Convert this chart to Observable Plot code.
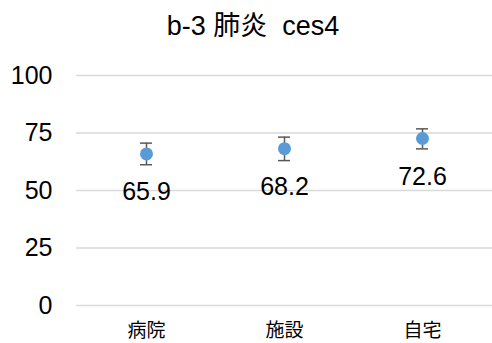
<!DOCTYPE html>
<html>
<head>
<meta charset="utf-8">
<script src="https://cdn.jsdelivr.net/npm/d3@7"></script>
<script src="https://cdn.jsdelivr.net/npm/@observablehq/plot@0.6"></script>
<style>
  body { margin: 0; background: #fff; font-family: "Liberation Sans", "Noto Sans CJK JP", sans-serif; }
  #title { height: 50px; line-height: 52px; text-align: center; font-size: 27px; color: #000; width: 492px; padding-left: 14px; box-sizing: border-box; white-space: pre; }
</style>
</head>
<body>
<div id="title">b-3 肺炎  ces4</div>
<div id="chart"></div>
<script>
const categories = ["病院", "施設", "自宅"];
const means = [65.9, 68.2, 72.6];
const lows = [61.2, 63.0, 68.1];
const highs = [70.6, 73.2, 76.8];
const yTicks = [0, 25, 50, 75, 100];

const data = categories.map((c, i) => ({cat: c, v: means[i], lo: lows[i], hi: highs[i]}));

const chart = Plot.plot({
  width: 492,
  height: 293,
  marginTop: 25,
  marginBottom: 38,
  marginLeft: 76,
  marginRight: 0,
  style: {fontFamily: '"Liberation Sans", "Noto Sans CJK JP", sans-serif', background: "#fff", color: "#000"},
  x: {domain: categories, type: "band", padding: 0, label: null},
  y: {domain: [0, 100], label: null},
  marks: [
    Plot.ruleY(yTicks, {stroke: "#d9d9d9", strokeWidth: 1.5}),
    Plot.axisY({ticks: yTicks, tickSize: 0, tickPadding: 24, fontSize: 25, label: null}),
    Plot.axisX({tickSize: 0, tickPadding: 18, fontSize: 19, label: null}),
    Plot.ruleX(data, {x: "cat", y1: "lo", y2: "hi", stroke: "#595959", strokeWidth: 1.5}),
    Plot.tickY(data, {x: "cat", y: "lo", stroke: "#595959", strokeWidth: 1.5, insetLeft: 63, insetRight: 63}),
    Plot.tickY(data, {x: "cat", y: "hi", stroke: "#595959", strokeWidth: 1.5, insetLeft: 63, insetRight: 63}),
    Plot.dot(data, {x: "cat", y: "v", r: 6.5, fill: "#5B9BD5", stroke: "none"}),
    Plot.text(data, {x: "cat", y: "v", text: d => d.v.toFixed(1), dy: 38, fontSize: 25, fill: "#000"})
  ]
});
document.getElementById("chart").appendChild(chart);
</script>
</body>
</html>
